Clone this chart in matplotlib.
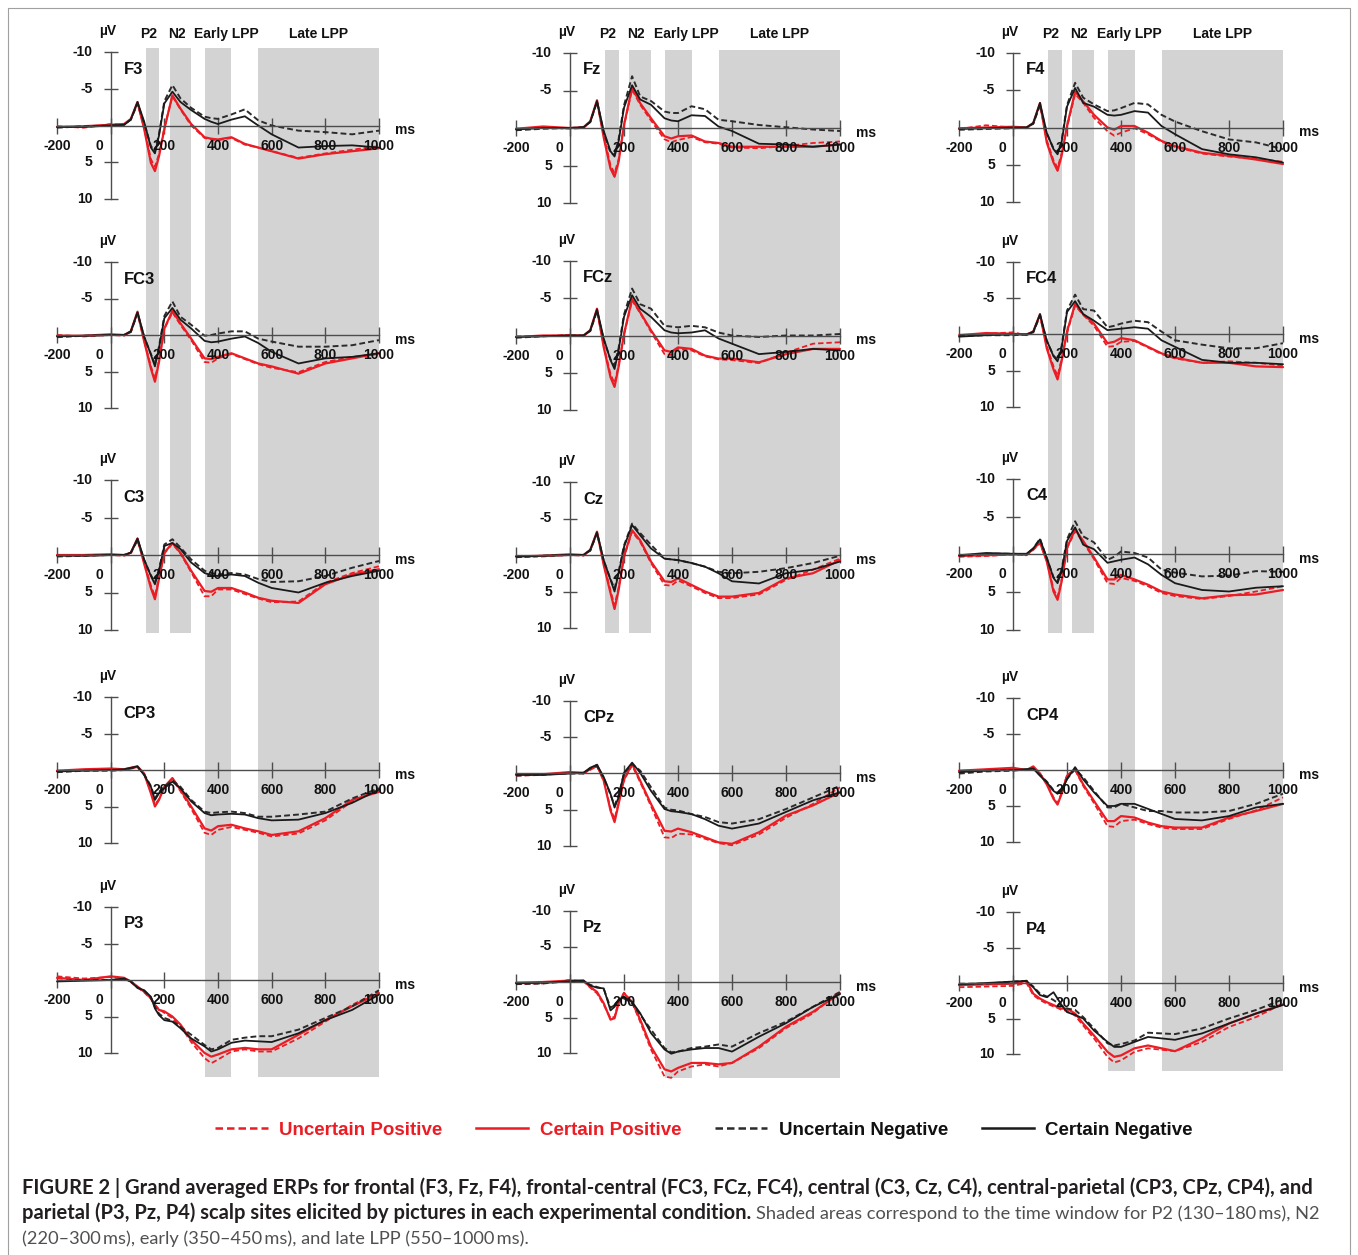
import matplotlib.pyplot as plt
from matplotlib.lines import Line2D

times = [-200, -100, 0, 50, 75, 100, 125, 150, 165, 180, 200, 230, 260,
         300, 350, 375, 400, 450, 500, 550, 600, 700, 800, 900, 1000]

# amplitudes in µV  (up = uncertain positive, cp = certain positive,
#                    un = uncertain negative, cn = certain negative)
f3_up = [0.1, 0.3, -0.2, -0.1, -0.8, -3.0, 0.3, 4.6, 5.6, 3.9, 0.3, -4.0, -2.2, 0.0, 1.7, 1.9, 2.0, 1.7, 2.6, 3.0, 3.5, 4.4, 3.8, 3.3, 2.8]
f3_cp = [0.2, 0.1, -0.1, -0.2, -0.9, -3.2, 0.5, 5.1, 6.2, 4.2, 0.5, -4.1, -2.3, -0.2, 1.6, 1.8, 1.9, 1.6, 2.5, 3.0, 3.5, 4.5, 3.9, 3.5, 3.1]
f3_un = [0.3, 0.1, 0.0, -0.1, -0.8, -3.0, -0.3, 2.8, 3.5, 1.2, -3.3, -5.5, -3.7, -2.4, -1.2, -1.0, -0.9, -1.5, -2.2, -0.7, 0.0, 0.7, 0.9, 1.2, 0.7]
f3_cn = [0.2, 0.2, 0.0, -0.1, -0.8, -3.2, -0.5, 3.0, 3.8, 1.4, -3.0, -4.6, -3.2, -2.1, -0.9, -0.5, -0.2, -0.8, -1.25, 0.0, 1.2, 3.0, 2.8, 2.7, 3.0]

fz_up = [0.2, -0.1, 0.1, 0.0, -0.8, -3.5, 1.0, 5.0, 6.0, 4.2, -0.3, -5.1, -3.1, -1.0, 1.5, 1.9, 1.6, 1.2, 1.9, 2.1, 2.6, 2.7, 2.4, 2.0, 1.8]
fz_cp = [0.1, -0.2, 0.0, -0.1, -0.9, -3.7, 1.3, 5.4, 6.5, 4.5, -0.4, -5.4, -3.3, -1.3, 1.1, 1.4, 1.1, 1.0, 1.8, 2.0, 2.5, 2.5, 2.5, 2.5, 2.2]
fz_un = [0.3, 0.1, 0.0, -0.1, -0.8, -3.5, 0.6, 3.3, 3.6, 1.5, -3.0, -6.9, -4.2, -3.6, -2.2, -2.0, -2.0, -2.9, -2.5, -1.1, -0.9, -0.4, -0.1, 0.2, 0.4]
fz_cn = [0.2, 0.0, 0.0, -0.1, -0.8, -3.6, 0.4, 3.1, 3.8, 1.8, -2.7, -5.7, -3.8, -3.1, -1.3, -1.0, -0.9, -1.7, -1.6, -0.2, 0.4, 2.1, 2.2, 2.5, 2.2]

f4_up = [0.2, -0.3, 0.0, 0.1, -0.5, -3.1, 1.7, 4.4, 5.4, 3.5, 0.0, -4.5, -3.3, -1.3, 0.5, 1.1, 0.7, 0.1, 0.9, 1.9, 2.6, 3.5, 3.9, 4.2, 4.6]
f4_cp = [0.1, 0.0, -0.1, 0.0, -0.6, -3.3, 2.0, 4.7, 5.8, 3.8, -0.2, -4.8, -3.5, -1.7, 0.0, 0.3, -0.2, -0.2, 0.7, 1.8, 2.5, 3.4, 3.8, 4.3, 4.9]
f4_un = [0.3, 0.2, 0.1, 0.0, -0.5, -3.0, 0.8, 2.8, 3.4, 1.8, -3.0, -6.0, -4.0, -3.1, -2.2, -2.3, -2.6, -3.3, -3.1, -1.7, -0.8, 0.5, 1.6, 2.0, 2.9]
f4_cn = [0.2, 0.1, 0.0, 0.0, -0.6, -3.3, 0.7, 2.9, 3.6, 2.0, -2.8, -5.3, -3.3, -2.8, -1.7, -1.6, -1.7, -2.2, -2.0, -0.2, 0.9, 2.9, 3.6, 4.0, 4.7]

fc3_up = [0.0, 0.2, 0.0, 0.1, -0.4, -3.0, 0.8, 4.3, 6.0, 3.5, -0.8, -3.1, -1.4, 0.7, 3.7, 3.8, 3.2, 2.6, 3.3, 4.0, 4.5, 5.1, 3.7, 3.0, 2.6]
fc3_cp = [0.1, 0.1, -0.1, 0.0, -0.5, -3.2, 0.9, 4.6, 6.4, 3.7, -0.9, -3.3, -1.6, 0.5, 3.2, 3.3, 3.0, 2.5, 3.2, 3.9, 4.3, 5.3, 3.9, 3.2, 2.5]
fc3_un = [0.3, 0.1, 0.0, 0.0, -0.4, -3.0, 0.3, 2.6, 4.0, 1.6, -2.6, -4.6, -2.5, -1.4, 0.1, 0.0, -0.2, -0.5, -0.5, 0.5, 0.9, 1.6, 1.6, 1.4, 0.7]
fc3_cn = [0.2, 0.1, 0.0, 0.0, -0.5, -3.1, 0.2, 2.7, 4.3, 1.8, -2.3, -3.7, -2.1, -0.9, 0.8, 1.0, 0.9, 0.5, 0.2, 1.1, 2.3, 3.9, 3.2, 3.0, 2.5]

fcz_up = [0.1, 0.1, -0.1, 0.1, -0.6, -3.4, 1.4, 5.2, 6.4, 4.0, -0.1, -4.7, -3.0, -0.5, 2.5, 2.6, 1.8, 2.0, 2.8, 3.2, 3.3, 3.7, 2.3, 1.1, 0.9]
fcz_cp = [0.2, 0.0, 0.0, 0.0, -0.7, -3.6, 1.6, 5.6, 6.9, 4.2, -0.2, -4.9, -3.1, -0.7, 2.0, 2.2, 1.6, 1.8, 2.7, 3.1, 3.1, 3.6, 2.5, 1.8, 1.8]
fcz_un = [0.3, 0.1, 0.0, 0.0, -0.6, -3.3, 0.6, 3.2, 4.0, 1.7, -2.8, -6.3, -4.2, -3.6, -1.3, -1.2, -1.1, -1.3, -1.1, -0.4, 0.0, 0.2, 0.0, 0.0, -0.2]
fcz_cn = [0.2, 0.1, 0.0, 0.0, -0.7, -3.5, 0.4, 3.3, 4.5, 2.0, -2.5, -5.4, -3.6, -2.5, -0.7, -0.4, -0.3, -0.4, -0.7, 0.4, 1.1, 2.5, 2.2, 1.8, 2.0]

fc4_up = [0.2, -0.1, -0.3, 0.1, -0.3, -2.6, 1.6, 4.4, 5.7, 3.4, -0.2, -4.0, -2.7, -1.2, 1.7, 1.6, 1.0, 0.9, 1.8, 2.7, 3.3, 3.9, 3.7, 3.9, 4.3]
fc4_cp = [0.1, -0.2, -0.1, 0.0, -0.4, -2.8, 1.9, 4.8, 6.2, 3.7, -0.4, -4.2, -2.8, -1.5, 1.2, 1.0, 0.5, 0.8, 1.7, 2.6, 3.2, 3.9, 3.9, 4.4, 4.5]
fc4_un = [0.2, 0.1, 0.1, 0.0, -0.3, -2.6, 0.9, 2.9, 3.5, 1.6, -3.3, -5.5, -3.5, -3.3, -1.0, -1.2, -1.5, -1.9, -1.7, -0.4, 0.8, 1.4, 1.9, 1.9, 1.2]
fc4_cn = [0.3, 0.1, 0.0, 0.0, -0.4, -2.8, 0.8, 3.0, 3.7, 1.9, -3.1, -4.6, -2.8, -1.9, -0.6, -0.7, -0.8, -1.0, -0.8, 0.8, 1.7, 3.5, 3.9, 3.9, 4.1]

c3_up = [0.1, 0.1, 0.0, 0.1, -0.2, -2.0, 1.0, 4.1, 5.5, 3.0, -0.2, -1.5, -0.2, 2.3, 5.5, 5.5, 4.6, 4.6, 5.2, 5.8, 6.3, 6.2, 3.7, 2.4, 1.5]
c3_cp = [0.0, 0.0, -0.1, 0.0, -0.3, -2.2, 1.2, 4.4, 5.9, 3.2, -0.3, -1.6, -0.3, 2.1, 4.8, 4.9, 4.4, 4.4, 5.0, 5.7, 6.1, 6.4, 3.9, 2.6, 1.9]
c3_un = [0.2, 0.1, 0.0, 0.0, -0.3, -2.0, 0.7, 2.7, 3.6, 1.9, -1.4, -2.1, -1.0, 0.6, 2.1, 2.4, 2.6, 2.4, 2.6, 3.2, 3.6, 3.5, 2.8, 1.7, 0.8]
c3_cn = [0.1, 0.1, 0.0, 0.0, -0.3, -2.2, 0.6, 2.8, 3.9, 2.1, -1.2, -1.6, -0.8, 1.0, 2.4, 2.7, 2.8, 2.6, 2.8, 3.7, 4.4, 5.0, 3.7, 2.8, 2.1]

cz_up = [0.3, 0.2, 0.0, 0.1, -0.6, -3.0, 1.2, 4.9, 6.9, 4.5, 0.3, -3.2, -1.8, 1.1, 4.1, 4.2, 3.5, 4.3, 5.2, 5.9, 5.9, 5.4, 3.4, 2.0, 0.5]
cz_cp = [0.2, 0.1, -0.1, 0.0, -0.7, -3.2, 1.4, 5.2, 7.4, 4.8, 0.2, -3.4, -2.0, 0.9, 3.6, 3.7, 3.2, 4.1, 5.0, 5.7, 5.7, 5.2, 3.2, 2.5, 0.7]
cz_un = [0.3, 0.1, 0.0, 0.0, -0.6, -3.0, 0.8, 3.3, 4.6, 2.3, -1.3, -4.3, -3.0, -1.4, 0.5, 0.6, 0.7, 1.1, 1.6, 2.3, 2.5, 2.3, 1.8, 1.1, 0.1]
cz_cn = [0.2, 0.1, 0.0, 0.0, -0.7, -3.1, 0.7, 3.4, 5.0, 2.5, -1.1, -4.1, -2.7, -0.9, 0.5, 0.6, 0.7, 1.1, 1.6, 2.5, 3.6, 3.9, 2.5, 2.0, 0.9]

c4_up = [0.3, 0.2, 0.0, 0.1, -0.6, -1.5, 0.8, 4.6, 5.6, 3.4, -0.8, -3.1, -1.6, 0.6, 3.8, 3.9, 3.1, 3.5, 4.2, 5.1, 5.5, 5.9, 5.5, 4.9, 4.2]
c4_cp = [0.2, 0.1, 0.0, 0.0, -0.7, -1.6, 0.9, 4.9, 6.0, 3.6, -0.9, -3.3, -1.8, 0.4, 3.3, 3.3, 2.7, 3.3, 4.0, 4.9, 5.3, 5.8, 5.4, 5.3, 4.7]
c4_un = [0.2, -0.1, -0.1, 0.0, -0.8, -2.1, 0.5, 3.0, 3.5, 2.0, -2.0, -4.4, -2.4, -1.6, 0.7, 0.3, -0.4, -0.2, 0.4, 2.0, 2.4, 2.9, 2.8, 2.2, 2.3]
c4_cn = [0.1, -0.2, -0.1, -0.1, -0.8, -2.0, 0.4, 3.1, 3.8, 2.2, -1.8, -3.6, -1.3, -0.7, 1.1, 0.9, 0.7, 0.4, 1.3, 2.7, 3.8, 4.7, 4.9, 4.4, 4.2]

cp3_up = [0.2, 0.0, -0.1, 0.0, -0.2, -0.4, 0.6, 3.0, 4.7, 4.0, 2.4, 1.2, 2.9, 5.3, 8.6, 8.9, 8.2, 7.8, 8.2, 8.6, 9.1, 8.7, 6.9, 4.3, 2.7]
cp3_cp = [0.1, -0.1, -0.2, -0.1, -0.3, -0.5, 0.5, 3.2, 5.0, 4.1, 2.3, 1.1, 2.7, 5.0, 8.0, 8.3, 7.7, 7.5, 8.0, 8.4, 8.9, 8.4, 6.6, 4.1, 3.0]
cp3_un = [0.3, 0.1, 0.1, 0.0, -0.2, -0.4, 0.6, 2.2, 3.9, 3.0, 2.3, 1.4, 2.3, 4.1, 5.7, 5.9, 5.8, 5.7, 5.9, 6.4, 6.4, 6.1, 5.7, 3.9, 2.5]
cp3_cn = [0.2, 0.1, 0.0, -0.1, -0.3, -0.5, 0.7, 2.3, 4.1, 3.2, 2.5, 1.6, 2.5, 4.3, 5.9, 6.2, 6.1, 6.0, 6.1, 6.6, 6.9, 6.8, 5.9, 4.5, 2.7]

cpz_up = [0.3, 0.2, -0.1, 0.0, -0.5, -1.0, 1.0, 4.8, 6.3, 4.0, 0.9, -1.1, 1.2, 4.5, 8.8, 8.9, 8.3, 8.4, 9.0, 9.6, 9.9, 8.4, 6.1, 4.2, 1.9]
cpz_cp = [0.1, 0.1, -0.2, -0.1, -0.6, -1.2, 1.0, 5.1, 6.7, 4.2, 0.8, -1.3, 1.0, 4.2, 7.9, 8.0, 7.6, 8.1, 8.8, 9.5, 9.7, 8.1, 5.8, 4.4, 2.6]
cpz_un = [0.3, 0.1, 0.0, 0.0, -0.7, -1.0, 0.6, 2.9, 4.4, 3.0, 0.0, -1.3, -0.4, 1.9, 4.7, 5.0, 5.1, 5.6, 6.0, 6.7, 6.9, 6.3, 4.9, 3.3, 1.7]
cpz_cn = [0.2, 0.2, 0.0, -0.1, -0.8, -1.2, 0.5, 2.8, 4.7, 3.3, -0.1, -1.5, -0.1, 2.4, 4.9, 5.2, 5.3, 5.6, 6.3, 7.2, 7.6, 6.9, 5.3, 3.7, 2.6]

cp4_up = [0.3, 0.1, -0.2, 0.0, -0.4, 0.5, 1.8, 3.8, 4.6, 3.2, 0.7, 0.0, 2.2, 4.6, 7.8, 7.9, 7.1, 6.9, 7.5, 8.0, 8.2, 8.2, 6.8, 5.6, 3.8]
cp4_cp = [0.1, -0.1, -0.3, 0.0, -0.5, 0.5, 2.0, 4.0, 4.8, 3.3, 0.8, -0.1, 2.0, 4.3, 7.1, 7.1, 6.4, 6.6, 7.3, 7.8, 8.0, 8.0, 6.6, 5.7, 4.7]
cp4_un = [0.5, 0.2, 0.1, -0.1, -0.2, 0.7, 1.6, 2.8, 3.2, 2.8, 1.2, -0.1, 1.0, 2.9, 5.2, 5.2, 4.7, 5.2, 5.7, 5.7, 5.9, 5.9, 5.7, 4.7, 3.3]
cp4_cn = [0.3, 0.1, 0.0, -0.1, -0.2, 0.8, 1.7, 2.9, 3.3, 2.9, 1.3, -0.4, 1.3, 3.1, 5.0, 5.0, 4.7, 4.7, 5.4, 6.1, 6.8, 7.0, 6.4, 5.2, 4.7]

p3_up = [-0.5, -0.2, -0.4, -0.2, 0.3, 1.0, 1.7, 2.6, 3.5, 4.0, 4.5, 5.2, 6.3, 8.5, 10.7, 11.4, 10.9, 9.8, 9.5, 9.8, 9.8, 8.0, 5.7, 3.4, 1.6]
p3_cp = [-0.3, 0.0, -0.5, -0.3, 0.2, 0.9, 1.6, 2.5, 3.4, 4.1, 4.3, 5.0, 6.1, 8.2, 10.0, 10.5, 10.2, 9.5, 9.3, 9.5, 9.5, 7.5, 5.5, 3.6, 1.8]
p3_un = [0.1, 0.0, 0.0, -0.1, 0.2, 1.0, 1.5, 2.4, 3.7, 4.6, 5.2, 5.6, 6.4, 7.5, 8.9, 9.5, 9.3, 8.2, 7.9, 7.7, 7.7, 6.8, 5.2, 3.6, 1.4]
p3_cn = [0.2, 0.1, 0.0, -0.2, 0.2, 1.1, 1.4, 2.3, 3.9, 4.8, 5.5, 5.7, 6.6, 8.0, 9.1, 9.8, 9.5, 8.6, 8.3, 8.4, 8.5, 7.3, 5.5, 4.1, 2.0]

pz_up = [0.3, 0.2, -0.3, -0.1, 0.8, 1.6, 3.2, 5.1, 4.9, 2.8, 1.5, 2.9, 5.6, 9.5, 13.3, 13.5, 12.6, 11.9, 11.6, 11.9, 11.4, 9.3, 6.5, 4.4, 1.3]
pz_cp = [0.1, 0.0, -0.2, -0.2, 0.7, 1.4, 3.0, 5.3, 5.1, 3.0, 1.6, 2.8, 5.3, 9.1, 12.3, 12.6, 12.1, 11.4, 11.4, 11.6, 11.4, 9.1, 6.3, 4.2, 1.6]
pz_un = [0.3, 0.2, -0.1, -0.1, 0.4, 0.7, 1.0, 3.6, 3.3, 2.5, 2.3, 3.0, 4.6, 6.7, 9.3, 9.9, 9.8, 9.3, 9.1, 8.8, 9.1, 7.2, 5.6, 3.5, 1.4]
pz_cn = [0.2, 0.1, -0.1, -0.2, 0.5, 0.8, 0.9, 4.0, 3.5, 2.6, 2.1, 2.8, 4.4, 7.2, 9.5, 10.1, 9.8, 9.5, 9.3, 9.3, 9.8, 7.7, 5.8, 3.5, 1.7]

p4_up = [0.6, 0.5, 0.4, 0.0, 1.7, 2.4, 2.9, 3.3, 3.5, 3.8, 3.9, 4.6, 6.0, 7.8, 10.4, 11.2, 10.9, 9.7, 9.2, 9.4, 9.6, 8.3, 6.2, 4.8, 2.9]
p4_cp = [0.3, 0.2, 0.1, -0.3, 1.5, 2.2, 2.7, 3.1, 3.4, 3.6, 3.6, 4.3, 5.7, 7.4, 9.7, 10.4, 10.2, 9.2, 8.8, 9.2, 9.6, 7.8, 5.7, 4.3, 3.0]
p4_un = [0.1, 0.1, -0.2, -0.3, 0.5, 1.5, 1.9, 2.4, 2.8, 3.2, 3.6, 3.8, 4.8, 6.4, 8.5, 8.8, 8.6, 8.1, 7.0, 7.1, 7.2, 6.4, 5.0, 3.8, 2.3]
p4_cn = [0.2, 0.0, -0.2, -0.3, 0.6, 1.7, 2.0, 1.3, 2.2, 3.1, 4.1, 4.5, 5.0, 6.7, 8.3, 9.0, 9.0, 8.3, 7.6, 7.8, 8.0, 7.1, 5.7, 4.3, 3.1]

sites = [['F3', 'Fz', 'F4'],
         ['FC3', 'FCz', 'FC4'],
         ['C3', 'Cz', 'C4'],
         ['CP3', 'CPz', 'CP4'],
         ['P3', 'Pz', 'P4']]
waves = {
    'F3': [f3_up, f3_cp, f3_un, f3_cn], 'Fz': [fz_up, fz_cp, fz_un, fz_cn], 'F4': [f4_up, f4_cp, f4_un, f4_cn],
    'FC3': [fc3_up, fc3_cp, fc3_un, fc3_cn], 'FCz': [fcz_up, fcz_cp, fcz_un, fcz_cn], 'FC4': [fc4_up, fc4_cp, fc4_un, fc4_cn],
    'C3': [c3_up, c3_cp, c3_un, c3_cn], 'Cz': [cz_up, cz_cp, cz_un, cz_cn], 'C4': [c4_up, c4_cp, c4_un, c4_cn],
    'CP3': [cp3_up, cp3_cp, cp3_un, cp3_cn], 'CPz': [cpz_up, cpz_cp, cpz_un, cpz_cn], 'CP4': [cp4_up, cp4_cp, cp4_un, cp4_cn],
    'P3': [p3_up, p3_cp, p3_un, p3_cn], 'Pz': [pz_up, pz_cp, pz_un, pz_cn], 'P4': [p4_up, p4_cp, p4_un, p4_cn],
}
conditions = ['Uncertain Positive', 'Certain Positive', 'Uncertain Negative', 'Certain Negative']
x_ticks = [-200, 0, 200, 400, 600, 800, 1000]
y_ticks = [-10, -5, 5, 10]
# analysis windows (ms)
windows = [('P2', 130, 180), ('N2', 220, 300), ('Early LPP', 350, 450), ('Late LPP', 550, 1000)]

# ---------------------------------------------------------------- styling
FONT = ['Lato', 'DejaVu Sans']          # caption
CHART = ['Liberation Sans', 'DejaVu Sans']  # labels inside the chart
plt.rcParams['font.family'] = CHART
RED = '#ec1c24'
INK = '#111111'
styles = [dict(color=RED, ls=(0, (3, 1.6)), lw=1.3),
          dict(color=RED, ls='-', lw=1.6),
          dict(color='#2b2b2b', ls=(0, (3, 1.6)), lw=1.4),
          dict(color='#1a1a1a', ls='-', lw=1.3)]
AXC = '#4d4d4d'
SHADE = '#d3d3d3'

W, H = 1358, 1255
XL = (-260, 1060)
YL = (15, -13)
# pixel position of x=-200 / x=1000 per column, and of y=-10 / y=10 per panel
col_px = [(57, 379), (516, 840), (959, 1283)]
row_px = [[(52, 199), (53, 203), (53, 202)],
          [(262, 408), (261, 410), (262, 407)],
          [(480, 630), (482, 628), (479, 630)],
          [(697, 843), (701, 846), (698, 842)],
          [(907, 1053), (911, 1053), (912, 1054)]]
shade_top = [48, 50, 50]
shade_bot = [(633, 1077), (633, 1078), (633, 1071)]   # (P2/N2, LPP windows)
label_ms = [140, 245, 430, 775]


def xrect(x0, x1):
    xs = (x1 - x0) / 1200
    left = x0 - (-200 - XL[0]) * xs
    right = x1 + (XL[1] - 1000) * xs
    return left, right


def panel_rect(x0, x1, y0, y1):
    left, right = xrect(x0, x1)
    ys = (y1 - y0) / 20
    top = y0 - (-10 - YL[1]) * ys
    bottom = y1 + (YL[0] - 10) * ys
    return [left / W, 1 - bottom / H, (right - left) / W, (bottom - top) / H]


fig = plt.figure(figsize=(W / 100, H / 100), dpi=100)

# shaded time windows, one background axes per column (y in pixels)
for c in range(3):
    left, right = xrect(*col_px[c])
    bg = fig.add_axes([left / W, 0, (right - left) / W, 1])
    bg.set_xlim(XL)
    bg.set_ylim(H, 0)
    bg.axis('off')
    for k, (name, a, b) in enumerate(windows):
        bot = shade_bot[c][0] if k < 2 else shade_bot[c][1]
        bg.fill_between([a, b], shade_top[c], bot, color=SHADE, lw=0)
        bg.text(label_ms[k], 34, name, ha='center', va='center',
                fontsize=10, fontweight='bold', color=INK)

# ERP panels
for r in range(5):
    for c in range(3):
        site = sites[r][c]
        ax = fig.add_axes(panel_rect(*col_px[c], *row_px[r][c]))
        ax.set_facecolor('none')
        ax.set_xlim(XL)
        ax.set_ylim(YL)
        for vals, st in zip(waves[site], styles):
            ax.plot(times, vals, solid_capstyle='round', **st)

        for s in ['top', 'right']:
            ax.spines[s].set_visible(False)
        ax.spines['left'].set_position(('data', 0))
        ax.spines['left'].set_bounds(-10, 10)
        ax.spines['bottom'].set_position(('data', 0))
        ax.spines['bottom'].set_bounds(-200, 1000)
        for s in ['left', 'bottom']:
            ax.spines[s].set_color(AXC)
            ax.spines[s].set_linewidth(1.0)
        ax.set_xticks(x_ticks)
        ax.set_yticks(y_ticks)
        ax.tick_params(axis='x', direction='inout', length=11, width=1, color=AXC,
                       labelbottom=False)
        ax.tick_params(axis='y', direction='inout', length=10, width=1, color=AXC,
                       labelleft=False)

        tk = dict(textcoords='offset pixels', fontsize=10, fontweight='bold', color=INK)
        for t in x_ticks:
            ax.annotate(str(t), xy=(t, 0), xytext=(-11 if t == 0 else 0, -20),
                        ha='center', va='center', **tk)
        for v in y_ticks:
            ax.annotate(str(v), xy=(0, v), xytext=(-18, 0), ha='right', va='center', **tk)
        ax.annotate('µV', xy=(0, -10), xytext=(-3, 21), ha='center', va='center', **tk)
        ax.annotate('ms', xy=(1000, 0), xytext=(16, -5), ha='left', va='center', **tk)
        ax.annotate(site, xy=(0, -10), xytext=(13, -17), ha='left', va='center',
                    textcoords='offset pixels', fontsize=12, fontweight='bold', color=INK)

# legend
handles = [Line2D([], [], **st) for st in styles]
for hd in handles:
    hd.set_linewidth(1.8)
leg = fig.legend(handles, conditions, loc='center', bbox_to_anchor=(704 / W, 1 - 1130 / H),
                 ncol=4, frameon=False, handlelength=2.8, handletextpad=0.6,
                 columnspacing=1.8, prop=dict(family=CHART, weight='bold', size=13.5))
for txt, col in zip(leg.get_texts(), [RED, RED, INK, INK]):
    txt.set_color(col)

# caption: sizes fitted to the line widths seen in the figure
cap_bold = ['FIGURE 2 | Grand averaged ERPs for frontal (F3, Fz, F4), frontal-central (FC3, FCz, FC4), '
            'central (C3, Cz, C4), central-parietal (CP3, CPz, CP4), and',
            'parietal (P3, Pz, P4) scalp sites elicited by pictures in each experimental condition.']
cap_reg = ['Shaded areas correspond to the time window for P2 (130\u2013180\u2009ms), N2',
           '(220\u2013300\u2009ms), early (350\u2013450\u2009ms), and late LPP (550\u20131000\u2009ms).']
base = [1194, 1219, 1244]
renderer = fig.canvas.get_renderer()
t1 = fig.text(22 / W, 1 - base[0] / H, cap_bold[0], fontsize=12, fontweight='bold',
              family=FONT, color='#231f20', va='baseline')
fs = 12 * 1283 / t1.get_window_extent(renderer).width
t1.set_fontsize(fs)
t2 = fig.text(22 / W, 1 - base[1] / H, cap_bold[1], fontsize=fs, fontweight='bold',
              family=FONT, color='#231f20', va='baseline')
bb = t2.get_window_extent(renderer)
x_reg = bb.x1 + 5
t3 = fig.text(x_reg / W, 1 - base[1] / H, cap_reg[0], fontsize=12, family=FONT,
              color='#505050', va='baseline')
fs_reg = 12 * (1320 - x_reg) / t3.get_window_extent(renderer).width
t3.set_fontsize(fs_reg)
fig.text(22 / W, 1 - base[2] / H, cap_reg[1], fontsize=fs_reg, family=FONT,
         color='#505050', va='baseline')

# thin frame around the figure
frame = fig.add_axes([0, 0, 1, 1], zorder=-1)
frame.set_xlim(0, W)
frame.set_ylim(H, 0)
frame.axis('off')
frame.plot([8, 8, 1350, 1350], [H + 5, 8, 8, H + 5], color='#a0a0a0', lw=0.8)

fig.savefig('out.png', dpi=100)
